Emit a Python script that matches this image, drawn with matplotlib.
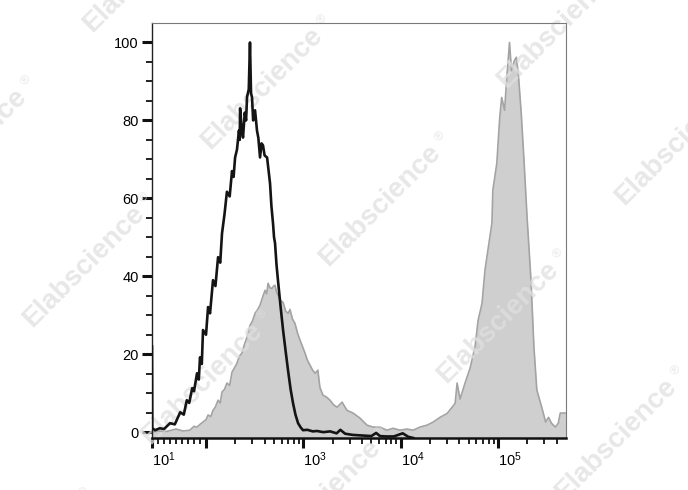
import matplotlib
matplotlib.use('Agg')
import matplotlib.pyplot as plt
import matplotlib.transforms as mtrans

plt.rcParams['font.family'] = ['Liberation Sans', 'DejaVu Sans']
plt.rcParams['mathtext.fontset'] = 'custom'
plt.rcParams['mathtext.rm'] = 'Liberation Sans'

# stained sample (filled gray histogram)
gray_x = [10, 20, 35, 50, 62, 73, 80, 85, 90, 95, 100, 105, 112, 118, 125, 133,
          140, 146, 155, 164, 175, 185, 196, 208, 220, 234, 248, 264, 283, 300,
          319, 340, 359, 380, 404, 420, 434, 455, 477, 495, 512, 530, 550, 585,
          619, 660, 700, 729, 775, 821, 870, 925, 980, 1040, 1100, 1170, 1240,
          1320, 1410, 1480, 1590, 1730, 1880, 2050, 2220, 2500, 2810, 3240, 3820,
          4510, 5200, 6130, 7230, 8350, 9860, 11600, 13400, 15800, 18700, 21600,
          25400, 30000, 33800, 36300, 38000, 40800, 45900, 51800, 58200, 62500,
          68600, 73500, 78800, 86600, 88600, 97300, 104300, 109200, 117000,
          122600, 131400, 137600, 147500, 154500, 161800, 173400, 185800, 199100,
          218400, 234100, 250800, 281600, 308800, 330900, 354600, 388800, 416700,
          436500, 467700, 495000]
gray_y = [0, 0.3, 0.2, 0.8, 0.3, 0.5, 1.5, 1.3, 2.0, 2.6, 3.2, 4.4, 4.0, 5.6, 6.5,
          8.2, 7.5, 10.3, 11.0, 12.6, 12.0, 15.4, 16.5, 17.7, 19.5, 20.3, 22.5,
          24.4, 27.4, 28.5, 30.5, 31.5, 32.6, 34.5, 36.4, 35.5, 38.2, 37.0, 36.9,
          37.5, 37.7, 36.0, 35.1, 33.8, 33.3, 31.0, 30.5, 31.5, 29.0, 27.9, 25.5,
          23.6, 22.0, 20.3, 18.5, 17.2, 16.0, 15.1, 15.9, 11.5, 9.5, 9.0, 8.2,
          7.0, 6.4, 7.7, 5.6, 4.9, 3.6, 1.8, 1.3, 1.3, 0.5, 1.0, 0.5, 0.8, 0.5,
          1.3, 1.8, 2.6, 3.8, 4.8, 6.4, 7.4, 12.6, 8.5, 12.6, 16.5, 22.0, 28.7,
          33.1, 41.5, 46.7, 53.6, 62.1, 69.0, 80.8, 85.9, 82.6, 90.3, 100, 92.8,
          95.4, 96.2, 92.0, 81.8, 69.0, 55.1, 39.0, 21.8, 10.8, 6.4, 2.6, 3.8,
          2.3, 1.3, 2.3, 4.9, 4.9, 4.9]

# isotype control (black outline)
black_x = [10, 10.5, 15, 23, 30, 40, 48, 57, 63, 68, 72, 77, 80, 85, 88, 90, 93,
           95, 100, 105, 110, 118, 125, 133, 140, 146, 155, 164, 175, 185, 192,
           199, 208, 218, 222, 224, 232, 240, 250, 258, 264, 275, 283, 290, 297,
           305, 319, 334, 345, 359, 372, 385, 400, 424, 440, 455, 470, 488, 500,
           512, 530, 550, 585, 619, 660, 696, 740, 784, 830, 883, 940, 993, 1100,
           1250, 1383, 1600, 1883, 2200, 2400, 2690, 3200, 3700, 4300, 5000,
           5600, 6130, 7000, 8500, 10500, 12000, 13500]
black_y = [22, 1.0, 0.5, 1.0, 0.8, 2.3, 2.0, 5.1, 4.5, 8.2, 7.5, 11.3, 10.5,
           15.1, 13.5, 19.2, 17.5, 26.2, 25.0, 32.1, 30.5, 39.0, 37.5, 44.9, 43.5,
           51.0, 56.0, 61.7, 60.5, 67.0, 65.5, 70.5, 72.5, 77.4, 75.0, 83.1, 78.0,
           75.6, 82.0, 80.0, 86.0, 88.0, 100, 87.0, 85.9, 80.0, 82.6, 77.4, 75.5,
           70.5, 74.1, 73.6, 71.0, 70.5, 67.0, 63.8, 58.0, 53.6, 50.0, 48.5, 43.0,
           38.7, 32.0, 26.2, 20.5, 15.9, 11.0, 7.4, 4.5, 2.3, 1.2, 0.5, 0.6, 0.2,
           0.3, 0.0, 0.2, -0.3, 0.6, -0.4, -0.7, -0.8, -0.9, -1.0,
           -0.2, -1.0, -1.1, -1.1, -0.3, -1.2, -1.5]

x_major = [10, 100, 1000, 10000, 100000]
x_labels = [r'$\mathregular{10^{1}}$', '', r'$\mathregular{10^{3}}$',
            r'$\mathregular{10^{4}}$', r'$\mathregular{10^{5}}$']
x_minor = ([20, 30, 40, 50, 60, 70, 80, 90]
           + [k * 100 for k in range(2, 10)]
           + [k * 1000 for k in range(2, 10)]
           + [k * 10000 for k in range(2, 10)]
           + [200000, 300000, 400000])
y_major = [0, 20, 40, 60, 80, 100]
y_minor = [v for v in range(5, 100, 5) if v % 20 != 0]

W, H = 688, 490
fig = plt.figure(figsize=(W / 100, H / 100), dpi=100)
ax = fig.add_axes([152 / W, 1 - 438 / H, (566 - 152) / W, (438 - 23) / H])

ax.fill_between(gray_x, gray_y, -1.5, color='#cfcfcf', lw=0, zorder=1)
ax.plot(gray_x, gray_y, color='#a3a3a3', lw=1.2, zorder=1.5)
ax.plot(black_x, black_y, color='#141414', lw=1.9, zorder=3)

ax.set_xscale('symlog', linthresh=100, linscale=0.555)
ax.set_xlim(10, 5e5)
ax.set_ylim(-1.5, 105)

ax.set_xticks(x_major)
ax.set_xticks(x_minor, minor=True)
ax.set_xticklabels(x_labels)
labs = ax.get_xticklabels()
for lab in labs:
    lab.set_ha('left')
# first label sits a little right of the edge tick
labs[0].set_transform(labs[0].get_transform()
                      + mtrans.ScaledTranslation(5 / 100, 0, fig.dpi_scale_trans))
ax.set_yticks(y_major)
ax.set_yticks(y_minor, minor=True)

ax.tick_params(axis='both', which='major', direction='out', length=7.5,
               width=2.2, labelsize=10.5, color='#111111')
ax.tick_params(axis='both', which='minor', direction='out', length=4,
               width=1.3, color='#111111')
ax.tick_params(axis='y', which='major', pad=2)
ax.tick_params(axis='x', which='major', pad=1.5)

for s in ['top', 'right']:
    ax.spines[s].set_color('#7a7a7a')
    ax.spines[s].set_linewidth(0.8)
ax.spines['left'].set_color('#222222')
ax.spines['left'].set_linewidth(1.0)
ax.spines['bottom'].set_color('#111111')
ax.spines['bottom'].set_linewidth(1.8)

# watermark grid (pixel positions)
cx, cy = 380, 205
for i in range(-3, 4):
    for j in range(-3, 4):
        px = cx + i * 118 + j * 178
        py = cy + i * 117 - j * 178
        if px < -120 or px > W + 120 or py < -120 or py > H + 120:
            continue
        ax.text(px / W, 1 - py / H, 'Elabscience', transform=fig.transFigure,
                rotation=45, ha='center', va='center', fontsize=20,
                fontweight='bold', color='#e0e0e0', alpha=0.75,
                clip_on=False, zorder=2, rotation_mode='anchor')
        ax.text((px + 60) / W, 1 - (py - 68) / H, '\u00ae',
                transform=fig.transFigure, rotation=45, ha='center',
                va='center', fontsize=9, color='#e0e0e0', alpha=0.75,
                clip_on=False, zorder=2, rotation_mode='anchor')

fig.savefig('out.png', dpi=100, facecolor='white')
